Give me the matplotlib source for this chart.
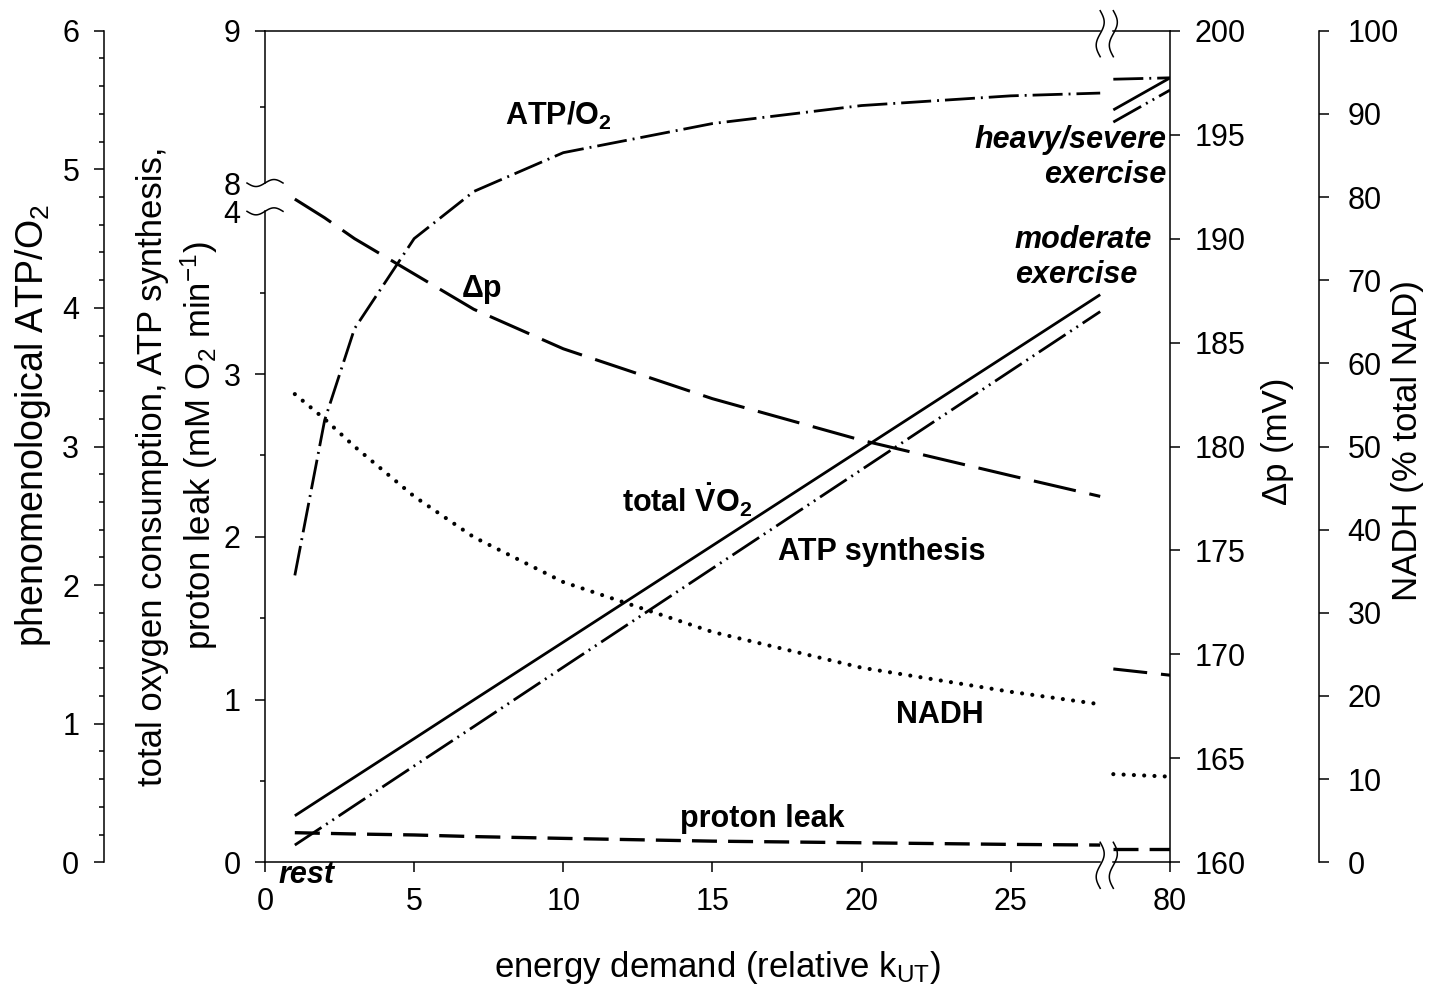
import numpy as np
import matplotlib
matplotlib.use("Agg")
import matplotlib.pyplot as plt
from matplotlib.transforms import blended_transform_factory
from matplotlib.ticker import FixedLocator

plt.rcParams["font.family"] = ["Liberation Sans", "DejaVu Sans"]
plt.rcParams["mathtext.fontset"] = "custom"
plt.rcParams["mathtext.rm"] = "Liberation Sans"
plt.rcParams["mathtext.it"] = "Liberation Sans:italic"
plt.rcParams["mathtext.bf"] = "Liberation Sans:bold"
plt.rcParams["lines.scale_dashes"] = False

# energy demand (relative k_UT); the heavy/severe points sit after the axis break
demand = [1, 2, 3, 5, 7, 10, 15, 20, 25, 28]
demand_heavy = [60, 80]

# mM O2 / min
vo2 = [0.286, 0.405, 0.523, 0.760, 0.998, 1.353, 1.946, 2.539, 3.132, 3.488]
vo2_heavy = [8.48, 8.69]
atp_synth = [0.106, 0.227, 0.349, 0.592, 0.834, 1.199, 1.806, 2.413, 3.020, 3.384]
atp_synth_heavy = [8.40, 8.61]
leak = [0.182, 0.178, 0.174, 0.168, 0.158, 0.147, 0.130, 0.120, 0.110, 0.106]
leak_heavy = [0.08, 0.08]

# phenomenological ATP/O2
atp_o2 = [2.07, 3.19, 3.85, 4.50, 4.84, 5.12, 5.33, 5.46, 5.53, 5.55]
atp_o2_heavy = [5.65, 5.66]

# delta p (mV)
dp = [191.9, 191.0, 190.0, 188.3, 186.6, 184.7, 182.3, 180.3, 178.6, 177.6]
dp_heavy = [169.3, 169.0]

# NADH (% total NAD)
nadh = [56.3, 53.3, 50.0, 44.0, 39.1, 33.7, 27.7, 23.4, 20.5, 19.0]
nadh_heavy = [10.6, 10.3]

x_ticks = [0, 5, 10, 15, 20, 25, 80]
y_ticks = [0, 1, 2, 3, 4, 8, 9]

# broken axes: piecewise linear scales
X_BRK = [-50, 0, 28, 60, 80, 200]
X_POS = [-50, 0, 28, 28.44, 30.34, 30.34 + 120 * 0.095]
Y_BRK = [-50, 0, 4, 8, 9, 60]
Y_POS = [-50, 0, 4, 4.174, 5.110, 5.110 + 51 * 0.936]


def fwd_x(v):
    return np.interp(v, X_BRK, X_POS)


def inv_x(v):
    return np.interp(v, X_POS, X_BRK)


def fwd_y(v):
    return np.interp(v, Y_BRK, Y_POS)


def inv_y(v):
    return np.interp(v, Y_POS, Y_BRK)


FS = 22
LFS = 25
SPINE_W = 1.1
W, H = 1441, 990

fig = plt.figure(figsize=(W / 100, H / 100), dpi=100)
ax = fig.add_axes([265 / W, 1 - 862.3 / H, 905 / W, 831.6 / H])
ax.set_xscale("function", functions=(fwd_x, inv_x))
ax.set_yscale("function", functions=(fwd_y, inv_y))

ax_atp = ax.twinx()
ax_dp = ax.twinx()
ax_nadh = ax.twinx()

ax.set_xlim(0, 80)
ax.set_ylim(0, 9)
ax_atp.set_ylim(0, 6)
ax_dp.set_ylim(160, 200)
ax_nadh.set_ylim(0, 100)


def draw(axis, ys, ys_heavy, heavy_offset=0, dashes=None, **kw):
    if dashes is None:
        axis.plot(demand, ys, color="black", **kw)
        axis.plot(demand_heavy, ys_heavy, color="black", **kw)
    else:
        axis.plot(demand, ys, color="black", linestyle=(0, dashes), **kw)
        axis.plot(demand_heavy, ys_heavy, color="black",
                  linestyle=(heavy_offset, dashes), **kw)


draw(ax, vo2, vo2_heavy, lw=2.0, solid_capstyle="butt")
draw(ax, atp_synth, atp_synth_heavy, dashes=(23, 4, 1.4, 4, 1.4, 4), lw=2.0,
     dash_capstyle="butt")
draw(ax, leak, leak_heavy, dashes=(18, 8), lw=2.4, dash_capstyle="butt")
draw(ax_atp, atp_o2, atp_o2_heavy, dashes=(21.6, 4.3, 1.4, 4.3), lw=2.0,
     dash_capstyle="butt")
draw(ax_dp, dp, dp_heavy, dashes=(31, 10), heavy_offset=6.5, lw=2.2,
     dash_capstyle="butt")
draw(ax_nadh, nadh, nadh_heavy, dashes=(0.01, 7.4), lw=3.0,
     dash_capstyle="round")

# ---- spines and ticks
for a in (ax, ax_atp, ax_dp, ax_nadh):
    for s in a.spines.values():
        s.set_visible(False)
        s.set_linewidth(SPINE_W)
    a.tick_params(which="major", direction="out", length=7.2, width=SPINE_W,
                  labelsize=FS, pad=10.5)
    a.tick_params(which="minor", direction="out", length=3.6, width=SPINE_W)

ax.spines["left"].set_visible(True)
ax.spines["left"].set_bounds(0, 4)
ax.spines["bottom"].set_visible(True)
ax.spines["bottom"].set_bounds(0, 28)
ax.spines["top"].set_visible(True)
ax.spines["top"].set_bounds(0, 28)

xa = blended_transform_factory(ax.transData, ax.transAxes)
ya = blended_transform_factory(ax.transAxes, ax.transData)
ax.plot([60, 80], [0, 0], color="black", lw=SPINE_W, transform=xa, clip_on=False)
ax.plot([60, 80], [1, 1], color="black", lw=SPINE_W, transform=xa, clip_on=False)
ax.plot([0, 0], [8, 9], color="black", lw=SPINE_W, transform=ya, clip_on=False)

ax.xaxis.set_major_locator(FixedLocator(x_ticks))
ax.xaxis.set_minor_locator(FixedLocator([]))
ax.set_xticklabels([str(v) for v in x_ticks])
ax.yaxis.set_major_locator(FixedLocator(y_ticks))
ax.yaxis.set_minor_locator(FixedLocator([0.5, 1.5, 2.5, 3.5, 8.5]))
ax.set_yticklabels([str(v) for v in y_ticks])
for i, t in enumerate(ax.yaxis.get_major_ticks()):
    if y_ticks[i] in (4, 8):
        t.tick1line.set_visible(False)

ax_atp.spines["left"].set_visible(True)
ax_atp.spines["left"].set_position(("axes", -0.178))
ax_atp.yaxis.tick_left()
ax_atp.yaxis.set_major_locator(FixedLocator(np.arange(0, 7, 1)))
ax_atp.yaxis.set_minor_locator(FixedLocator(np.arange(0, 6.01, 0.2)))

ax_dp.spines["right"].set_visible(True)
ax_dp.yaxis.tick_right()
ax_dp.yaxis.set_major_locator(FixedLocator(np.arange(160, 201, 5)))

ax_nadh.spines["right"].set_visible(True)
ax_nadh.spines["right"].set_position(("axes", 1.165))
ax_nadh.yaxis.tick_right()
ax_nadh.yaxis.set_major_locator(FixedLocator(np.arange(0, 101, 10)))
ax_nadh.tick_params(axis="y", pad=13)

# ---- break marks
x_span = fwd_x(80)
y_span = fwd_y(9)
ax_wpx, ax_hpx = 905.0, 831.6
s = np.linspace(-1, 1, 40)
for xb in (28, 60):
    fx = fwd_x(xb) / x_span
    for fy in (0.0, 1.0):
        ax.plot(fx + 4 * np.sin(np.pi * s) / ax_wpx, fy + (s * 23 - 3) / ax_hpx,
                color="black", lw=SPINE_W, transform=ax.transAxes, clip_on=False)
u = np.linspace(0, 1, 40)
for yb in (4, 8):
    fy = fwd_y(yb) / y_span
    ax.plot((u - 0.5) * 36 / ax_wpx, fy - 3.5 * np.sin(2 * np.pi * u) / ax_hpx,
            color="black", lw=SPINE_W, transform=ax.transAxes, clip_on=False)

# ---- curve labels
lab = dict(fontsize=FS, fontweight="bold", ha="left", va="baseline")
ax_atp.text(8.05, 5.32, r"ATP/O$_\mathbf{2}$", **lab)
ax_dp.text(6.6, 187.2, "\u0394p", **lab)
ax.text(11.97, 2.154, r"total $\mathbf{\dot{V}O_2}$", **lab)
ax.text(17.2, 1.857, "ATP synthesis", **lab)
ax.text(21.15, 0.856, "NADH", **lab)
ax.text(13.9, 0.217, "proton leak", **lab)
ax.text(25.14, 3.773, "moderate", fontstyle="italic", **lab)
ax.text(25.14, 3.558, "exercise", fontstyle="italic", **lab)
lab_r = dict(lab, ha="right")
ax.text(78.9, 8.229, "heavy/severe", fontstyle="italic", **lab_r)
ax.text(78.9, 8.0, "exercise", fontstyle="italic", **lab_r)
ax.text(0.44, -0.0249, "rest", fontstyle="italic", transform=xa, **lab)

# ---- axis titles
fig.text(717.5 / W, 1 - 977 / H, r"energy demand (relative k$_\mathregular{UT}$)",
         fontsize=LFS, ha="center", va="baseline")
fig.text(33 / W, 1 - 425 / H, r"phenomenological ATP/O$_2$", fontsize=27,
         rotation=90, ha="center", va="center")
fig.text(153 / W, 1 - 466 / H, "total oxygen consumption, ATP synthesis,",
         fontsize=LFS, rotation=90, ha="center", va="center")
fig.text(199 / W, 1 - 446 / H, r"proton leak (mM O$_2$ min$^{-1}$)",
         fontsize=LFS, rotation=90, ha="center", va="center")
fig.text(1278 / W, 1 - 441 / H, "\u0394p (mV)", fontsize=LFS, rotation=90,
         ha="center", va="center")
fig.text(1407 / W, 1 - 441 / H, "NADH (% total NAD)", fontsize=LFS,
         rotation=90, ha="center", va="center")

fig.savefig("out.png", dpi=100)
